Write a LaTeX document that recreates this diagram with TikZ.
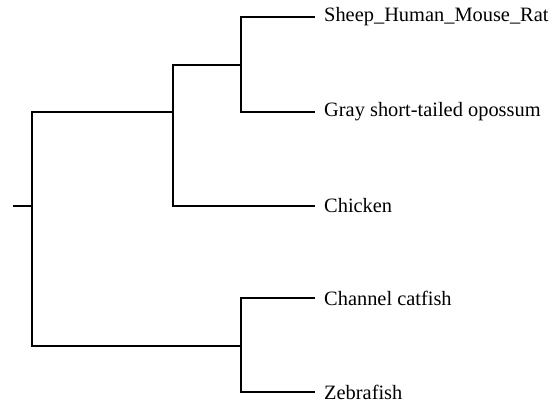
\documentclass[tikz,border=0pt]{standalone}
\usepackage{fontspec}
\setmainfont{Liberation Serif}
\begin{document}
\begin{tikzpicture}[x=1pt,y=-1pt,
  branch/.style={line width=1.7pt, line join=miter},
  leaf/.style={anchor=west, inner xsep=9pt, inner ysep=0pt,
    font=\fontsize{20.4}{24}\selectfont}]
  \useasboundingbox (0,0) rectangle (560,404);
  % leaves
  \node[leaf] (sheep)   at (315,17)  {Sheep\_Human\_Mouse\_Rat};
  \node[leaf] (opossum) at (315,112) {Gray short-tailed opossum};
  \node[leaf] (chicken) at (315,206) {Chicken};
  \node[leaf] (catfish) at (315,298) {Channel catfish};
  \node[leaf] (zebra)   at (315,392) {Zebrafish};
  % internal nodes
  \coordinate (root) at (13,206);
  \coordinate (n0) at (32,206);
  \coordinate (n1) at (173,112);
  \coordinate (n2) at (241,65);
  \coordinate (n3) at (241,346);
  % branches
  \draw[branch] (root) -- (n0);
  \draw[branch] (n0) |- (n1);
  \draw[branch] (n0) |- (n3);
  \draw[branch] (n1) |- (n2);
  \draw[branch] (n1) |- (chicken.west);
  \draw[branch] (n2) |- (sheep.west);
  \draw[branch] (n2) |- (opossum.west);
  \draw[branch] (n3) |- (catfish.west);
  \draw[branch] (n3) |- (zebra.west);
\end{tikzpicture}
\end{document}
